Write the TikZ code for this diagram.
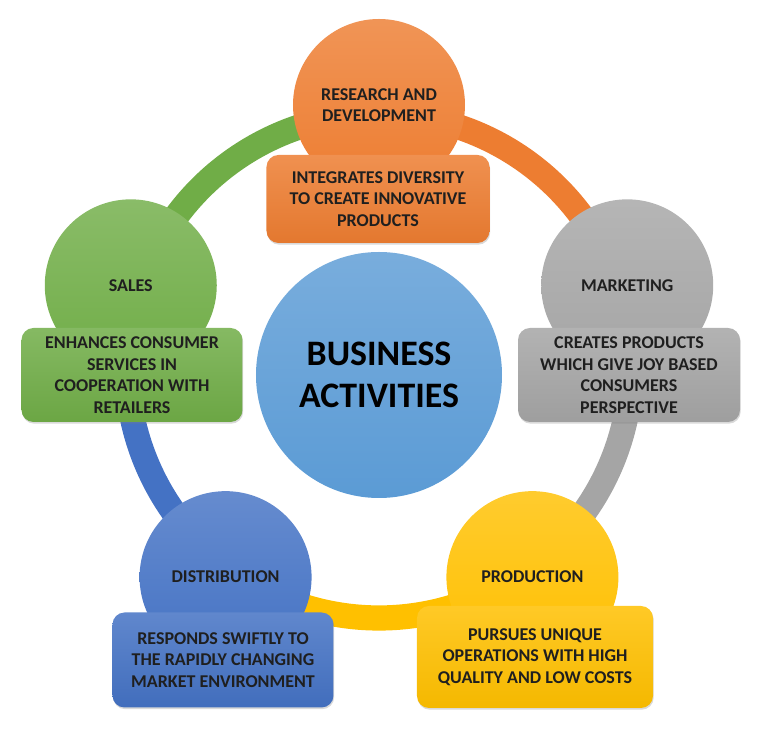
\documentclass[tikz,border=0pt]{standalone}
\usepackage{fontspec}
\setmainfont{Carlito}
\usetikzlibrary{shadows,backgrounds}
\definecolor{rdorange}{HTML}{ED7D31}
\definecolor{mkgray}{HTML}{A5A5A5}
\definecolor{prodyellow}{HTML}{FFC000}
\definecolor{distblue}{HTML}{4472C4}
\definecolor{salesgreen}{HTML}{70AD47}
\definecolor{corebl}{HTML}{5B9BD5}
\begin{document}
\begin{tikzpicture}[
  bubble/.style={circle, inner sep=0pt, minimum size=4.3cm, align=center,
    top color=#1!82!white, bottom color=#1, text=black!88,
    font=\fontsize{12.8}{15.4}\selectfont\bfseries},
  infobox/.style={rectangle, rounded corners=0.3cm, inner sep=0pt, align=center,
    top color=#1!85!white, bottom color=#1!96!black, text=black!88,
    font=\fontsize{12.8}{15.4}\selectfont\bfseries,
    drop shadow={shadow xshift=0.5pt, shadow yshift=-1.2pt, opacity=0.3}},
  ring/.style={line width=0.63cm, draw=#1}
]
\useasboundingbox (-9.475,-9.475) rectangle (9.975,9.15);
\coordinate (hub) at (0,0);
\node[bubble=corebl, minimum size=6.15cm, text=black, font=\fontsize{25.5}{30}\selectfont\bfseries] (core) at (0,-0.225) {BUSINESS\\ACTIVITIES};
\node[bubble=rdorange] (rd) at (90:6.525) {RESEARCH AND\\DEVELOPMENT};
\node[bubble=mkgray] (mk) at (18:6.525) {MARKETING};
\node[bubble=prodyellow] (prod) at (-54:6.525) {PRODUCTION};
\node[bubble=distblue] (dist) at (-126:6.525) {DISTRIBUTION};
\node[bubble=salesgreen] (sales) at (162:6.525) {SALES};
\node[infobox=rdorange, minimum width=5.575cm, minimum height=2.2cm] (rdnote) at (-0.025,4.175) {INTEGRATES DIVERSITY\\TO CREATE INNOVATIVE\\PRODUCTS};
\node[infobox=mkgray, minimum width=5.55cm, minimum height=2.35cm] (mknote) at (6.25,-0.225) {CREATES PRODUCTS\\WHICH GIVE JOY BASED\\CONSUMERS\\PERSPECTIVE};
\node[infobox=prodyellow, minimum width=5.9cm, minimum height=2.55cm] (prodnote) at (3.9,-7.275) {PURSUES UNIQUE\\OPERATIONS WITH HIGH\\QUALITY AND LOW COSTS};
\node[infobox=distblue, minimum width=5.525cm, minimum height=2.375cm] (distnote) at (-3.9,-7.35) {RESPONDS SWIFTLY TO\\THE RAPIDLY CHANGING\\MARKET ENVIRONMENT};
\node[infobox=salesgreen, minimum width=5.525cm, minimum height=2.35cm] (salesnote) at (-6.175,-0.225) {ENHANCES CONSUMER\\SERVICES IN\\COOPERATION WITH\\RETAILERS};
\begin{scope}[on background layer]
\draw[ring=rdorange] (hub) ++(90:6.3) arc (90:18:6.3) ; \draw[ring=mkgray] (hub) ++(18:6.3) arc (18:-54:6.3) ;
\draw[ring=prodyellow] (hub) ++(-54:6.3) arc (-54:-126:6.3) ; \draw[ring=distblue] (hub) ++(-126:6.3) arc (-126:-198:6.3) ;
\draw[ring=salesgreen] (hub) ++(162:6.3) arc (162:90:6.3) ;
\end{scope}
\end{tikzpicture}
\end{document}
